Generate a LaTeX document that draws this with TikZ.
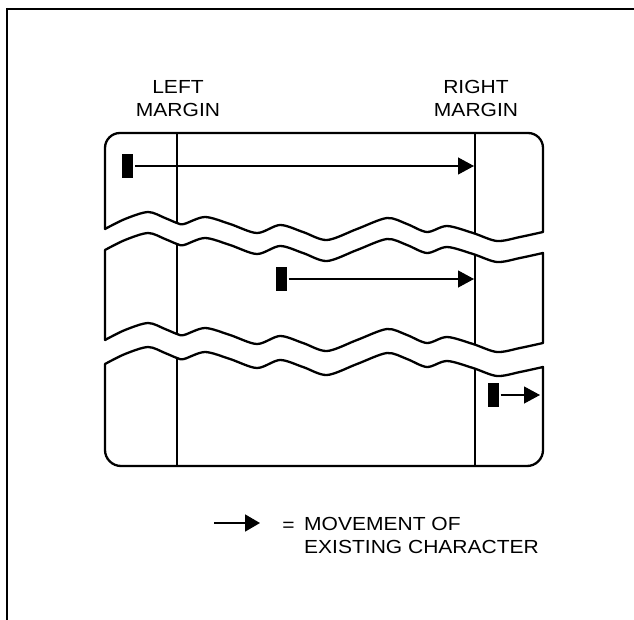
\documentclass[tikz,border=0pt]{standalone}
\usepackage{fontspec}
\newfontfamily\labfont[FakeStretch=1.11]{Liberation Sans}
\usetikzlibrary{arrows.meta}
\newcommand\panelone{(105,229) -- (105,148) .. controls (105,139.7) and (111.7,133) .. (120,133) -- (528,133) .. controls (536.3,133) and (543,139.7) .. (543,148) -- (543,232) -- plot[smooth,tension=0.5] coordinates {(543,232) (520,237) (497,241) (473,233) (447,226) (427,232) (407,224) (387,218) (357,229) (327,240) (303,232) (280,225) (257,233) (230,224) (205,217) (184,224) (177,223) (165,218) (148,212) (125,219) (105,229)} -- cycle}
\newcommand\paneltwo{plot[smooth,tension=0.5] coordinates {(105,250) (125,240) (148,233) (165,239) (177,244) (184,245) (205,238) (230,245) (257,254) (280,246) (303,253) (327,261) (357,250) (387,239) (407,245) (427,253) (447,247) (473,254) (497,262) (520,258) (543,253)} -- plot[smooth,tension=0.5] coordinates {(543,343) (520,348) (497,352) (473,344) (447,337) (427,343) (407,335) (387,329) (357,340) (327,351) (303,343) (280,336) (257,344) (230,335) (205,328) (184,335) (177,334) (165,329) (148,323) (125,330) (105,340)} -- cycle}
\newcommand\panelthree{plot[smooth,tension=0.5] coordinates {(105,364) (125,354) (148,347) (165,353) (177,358) (184,359) (205,352) (230,359) (257,368) (280,360) (303,367) (327,375) (357,364) (387,353) (407,359) (427,367) (447,361) (473,368) (497,376) (520,372) (543,367)} -- (543,450) .. controls (543,458.8) and (535.8,466) .. (527,466) -- (121,466) .. controls (112.2,466) and (105,458.8) .. (105,450) -- cycle}
\begin{document}
\begin{tikzpicture}[x=1bp,y=-1bp,
  outline/.style={line width=2.3bp,line join=round},
  marginline/.style={line width=1.2bp},
  blk/.style={rectangle,fill=black,draw=none,minimum width=11bp,minimum height=24bp,inner sep=0pt},
  arr/.style={line width=1.2bp,-{Triangle[length=16bp,width=17bp]},shorten <=2bp},
  lab/.style={font=\labfont\fontsize{19}{23}\selectfont,inner sep=0pt,align=center}]
\fill[white] (0,0) rectangle (634,620);
\useasboundingbox (0,0) rectangle (634,620);
% page frame
\draw[line width=2bp] (634,9) -- (7,9);
\draw[line width=1.5bp] (7,8) -- (7,620);
% margin lines inside each panel
\foreach \p in {\panelone,\paneltwo,\panelthree}{
  \begin{scope}
    \clip \p;
    \draw[marginline] (177,120) -- (177,480);
    \draw[marginline] (475,120) -- (475,480);
  \end{scope}
}
% panel outlines
\draw[outline] \panelone;
\draw[outline] \paneltwo;
\draw[outline] \panelthree;
% labels
\node[lab,anchor=north] (lm) at (178,80) {LEFT\\MARGIN};
\node[lab,anchor=north] (rm) at (476,80) {RIGHT\\MARGIN};
% characters and movements
\node[blk] (b1) at (127.5,166) {};
\coordinate (t1) at (474,166);
\draw[arr] (b1) -- (t1);
\node[blk] (b2) at (281,279) {};
\coordinate (t2) at (474,279);
\draw[arr] (b2) -- (t2);
\node[blk] (b3) at (493,395) {};
\coordinate (t3) at (540,395);
\draw[arr] (b3) -- (t3);
% legend
\coordinate (l0) at (214,523);
\coordinate (l1) at (260,523);
\draw[line width=1.8bp,-{Triangle[length=15bp,width=17bp]}] (l0) -- (l1);
\node[lab,anchor=base] (eq) at (288.5,531) {=};
\node[lab,anchor=north west,align=left] (lg) at (304,517.5) {MOVEMENT OF\\EXISTING CHARACTER};
\end{tikzpicture}
\end{document}
